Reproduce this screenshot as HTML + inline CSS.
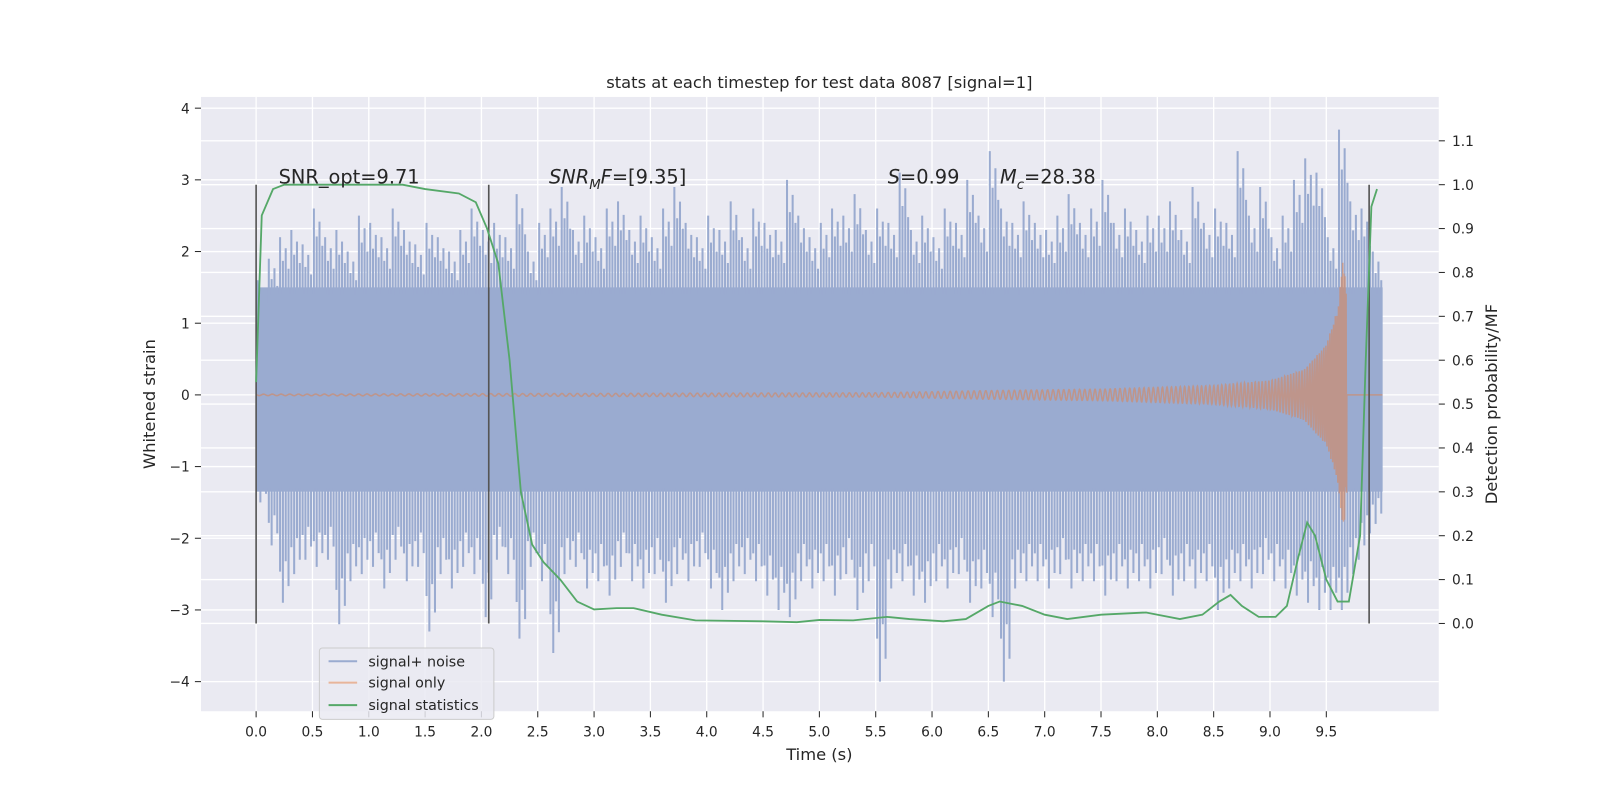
<!DOCTYPE html>
<html><head><meta charset="utf-8"><style>
html,body{margin:0;padding:0;background:#fff;width:1600px;height:800px;overflow:hidden;position:relative;}
#chart{position:absolute;left:0;top:0;display:block;font-family:"DejaVu Sans","Liberation Sans",sans-serif;}
</style></head><body><svg id="chart" width="1600" height="800" viewBox="0 0 1600 800"><g id="root" transform="scale(1.0204)"></g></svg><script>
// ---- data ----
const xTicks=[0,0.5,1,1.5,2,2.5,3,3.5,4,4.5,5,5.5,6,6.5,7,7.5,8,8.5,9,9.5];
const yTicks=[-4,-3,-2,-1,0,1,2,3,4];
const rTicks=[0,0.1,0.2,0.3,0.4,0.5,0.6,0.7,0.8,0.9,1.0,1.1];
// noise max/min per 0.1s bin (0.0..10.0)
const noiseMax=[1.6,1.9,2.2,2.3,2.1,2.6,2.2,2.3,2.0,2.5,2.4,2.2,2.6,2.3,2.1,2.4,2.2,2.0,2.3,2.6,2.3,2.4,2.2,2.8,2.0,2.4,2.6,2.9,2.3,2.5,2.2,2.6,2.7,2.3,2.5,2.2,2.6,2.9,2.4,2.2,2.5,2.3,2.7,2.2,2.6,2.4,2.3,3.0,2.5,2.2,2.4,2.6,2.5,2.8,2.3,2.6,2.4,3.1,2.3,2.5,2.2,2.6,2.4,3.0,2.5,3.4,2.6,2.4,2.7,2.4,2.3,2.5,2.8,2.4,2.6,3.0,2.4,2.6,2.3,2.5,2.5,2.7,2.3,2.9,2.4,2.6,2.4,3.4,2.5,2.9,2.2,2.5,3.0,3.3,3.1,2.2,3.7,2.7,2.6,2.0];
const noiseMin=[-1.5,-2.1,-2.9,-2.5,-2.3,-2.4,-2.3,-3.2,-2.6,-2.5,-2.4,-2.7,-2.3,-2.6,-2.4,-3.3,-2.5,-2.7,-2.4,-2.5,-3.1,-2.3,-2.5,-3.4,-2.4,-2.6,-3.6,-2.5,-2.4,-2.7,-2.6,-2.8,-2.4,-2.6,-2.7,-2.5,-2.9,-2.5,-2.6,-2.4,-2.7,-3.0,-2.6,-2.5,-2.6,-2.8,-3.0,-3.1,-2.6,-2.7,-2.6,-2.8,-2.5,-3.0,-2.6,-4.0,-2.7,-2.6,-2.8,-2.9,-2.6,-2.7,-2.5,-2.9,-2.7,-3.1,-4.0,-2.7,-2.6,-2.6,-2.7,-2.5,-2.7,-2.6,-2.6,-2.8,-2.6,-2.7,-2.6,-2.7,-2.5,-2.8,-2.6,-2.7,-2.6,-3.0,-2.7,-2.6,-2.7,-2.5,-2.6,-2.7,-2.8,-2.9,-3.0,-3.0,-3.0,-2.5,-2.1,-1.8];
// signal statistics (right axis)
const statT=[0,0.05,0.15,0.25,0.6,1.0,1.3,1.5,1.8,1.95,2.05,2.15,2.25,2.35,2.45,2.55,2.7,2.85,3.0,3.2,3.35,3.6,3.9,4.5,4.8,5.0,5.3,5.6,5.8,6.1,6.3,6.5,6.6,6.8,7.0,7.2,7.5,7.9,8.2,8.4,8.55,8.65,8.75,8.9,9.05,9.15,9.25,9.33,9.4,9.5,9.6,9.7,9.8,9.85,9.9,9.95];
const statV=[0.55,0.93,0.99,1.0,1.0,1.0,1.0,0.99,0.98,0.96,0.9,0.82,0.6,0.3,0.18,0.14,0.1,0.05,0.032,0.035,0.035,0.02,0.007,0.005,0.003,0.008,0.007,0.015,0.01,0.005,0.01,0.04,0.05,0.04,0.02,0.01,0.02,0.025,0.01,0.02,0.05,0.065,0.04,0.015,0.015,0.04,0.15,0.23,0.2,0.1,0.05,0.05,0.2,0.6,0.95,0.99];
// signal envelope (chirp amplitude)
const sigT=[0,5.5,6.5,7.5,8.5,9.0,9.3,9.5,9.6,9.65,9.68];
const sigA=[0.01,0.03,0.06,0.08,0.13,0.2,0.35,0.7,1.2,1.9,1.6];
const markers=[0,2.065,9.88];

// ---- scales ----
const X=t=>251+t*110.4, Y=v=>387-v*70.25, R=p=>611-p*430;
const svg=document.getElementById('root'), NS='http://www.w3.org/2000/svg';
function add(tag,at,parent){const e=document.createElementNS(NS,tag);for(const k in at)e.setAttribute(k,at[k]);(parent||svg).appendChild(e);return e;}
function txt(parent,at,s){const e=add('text',at,parent);e.textContent=s;return e;}

const bg=add('rect',{x:197,y:95,width:1213,height:602,fill:'#eaeaf2'});


const grid=add('g',{stroke:'#fff','stroke-width':1.3});


xTicks.forEach(t=>add('line',{x1:X(t),x2:X(t),y1:95,y2:697},grid));
yTicks.forEach(v=>add('line',{x1:197,x2:1410,y1:Y(v),y2:Y(v)},grid));
rTicks.forEach(v=>add('line',{x1:197,x2:1410,y1:R(v),y2:R(v)},grid));

// noise
const ng=add('g',{});


add('rect',{x:X(0),y:Y(1.5),width:X(10.0)-X(0),height:Y(-1.35)-Y(1.5),fill:'#9aabd0'},ng);
noiseMax.forEach((m,i)=>{
  const x=X(i*0.1);
  for(let k=0;k<4;k++){
    const xx=x+k*2.76+1.4, f=[1,0.85,0.93,0.8][k], g=[0.85,1,0.8,0.92][k];
    add('line',{x1:xx,x2:xx,y1:Y(1.4),y2:Y(m*f),stroke:'#9aabd0','stroke-width':2},ng);
    add('line',{x1:xx,x2:xx,y1:Y(-1.3),y2:Y(noiseMin[i]*g),stroke:'#9aabd0','stroke-width':2},ng);
  }
});

// signal only
function envAt(t){for(let i=1;i<sigT.length;i++){if(t<=sigT[i]){const a=(t-sigT[i-1])/(sigT[i]-sigT[i-1]);return sigA[i-1]+a*(sigA[i]-sigA[i-1]);}}return 0;}
let d='';const tc=9.7;
for(let t=0;t<=10.0;t+=0.002){
  let v=0;
  if(t<9.68){const ph=-2*Math.PI*30*Math.pow(tc-t,0.625)/0.625;v=envAt(t)*Math.sin(ph);}
  d+=(d?'L':'M')+X(t).toFixed(1)+','+Y(v).toFixed(1);
}
const sig=add('path',{d:d,fill:'none',stroke:'#dd8452','stroke-opacity':0.55,'stroke-width':1.5});



// markers
markers.forEach(t=>{const l=add('line',{x1:X(t),x2:X(t),y1:R(1.0),y2:R(0),stroke:'#555','stroke-width':1.6});

});

// stats
const sp=add('path',{d:statT.map((t,i)=>(i?'L':'M')+X(t)+','+R(statV[i])).join(''),fill:'none',stroke:'#55a868','stroke-width':1.8});



// axes ticks/labels
const ax=add('g',{fill:'#262626','font-size':13.5});


xTicks.forEach(t=>{add('line',{x1:X(t),x2:X(t),y1:697,y2:703,stroke:'#262626'},ax);txt(ax,{x:X(t),y:722,'text-anchor':'middle'},t.toFixed(1));});
yTicks.forEach(v=>{add('line',{x1:191,x2:197,y1:Y(v),y2:Y(v),stroke:'#262626'},ax);txt(ax,{x:186,y:Y(v)+5,'text-anchor':'end'},v<0?'\u2212'+(-v):String(v));});
rTicks.forEach(v=>{add('line',{x1:1410,x2:1416,y1:R(v),y2:R(v),stroke:'#262626'},ax);txt(ax,{x:1423,y:R(v)+5},v.toFixed(1));});

// titles
const t1=txt(svg,{x:803,y:86,'text-anchor':'middle','font-size':16,fill:'#262626'},'stats at each timestep for test data 8087 [signal=1]');


const t2=txt(svg,{x:803,y:745,'text-anchor':'middle','font-size':16,fill:'#262626'},'Time (s)');


const t3=txt(svg,{transform:'translate(152,396) rotate(-90)','text-anchor':'middle','font-size':16,fill:'#262626'},'Whitened strain');


const t4=txt(svg,{transform:'translate(1467,396) rotate(-90)','text-anchor':'middle','font-size':16,fill:'#262626'},'Detection probability/MF');



// annotations
const ann=add('g',{'font-size':19,fill:'#262626'});


ann.innerHTML='<text x="273" y="180">SNR_opt=9.71</text>'+
'<text x="538" y="180"><tspan font-style="italic">SNR</tspan><tspan font-style="italic" font-size="13" dy="5">M</tspan><tspan font-style="italic" dy="-5">F</tspan>=[9.35]</text>'+
'<text x="870" y="180"><tspan font-style="italic">S</tspan>=0.99</text>'+
'<text x="980" y="180"><tspan font-style="italic">M</tspan><tspan font-style="italic" font-size="13" dy="5">c</tspan><tspan dy="-5">=28.38</tspan></text>';

// legend
const lg=add('g',{'font-size':14,fill:'#262626'});


lg.innerHTML='<rect x="313" y="635" width="171" height="70" rx="3" fill="#eaeaf2" fill-opacity="0.85" stroke="#ccc"/>'+
'<line x1="322" x2="350" y1="648" y2="648" stroke="#9aabd0" stroke-width="2"/><text x="361" y="653">signal+ noise</text>'+
'<line x1="322" x2="350" y1="669" y2="669" stroke="#e8b59a" stroke-width="2"/><text x="361" y="674">signal only</text>'+
'<line x1="322" x2="350" y1="691" y2="691" stroke="#55a868" stroke-width="2"/><text x="361" y="696">signal statistics</text>';
</script></body></html>
